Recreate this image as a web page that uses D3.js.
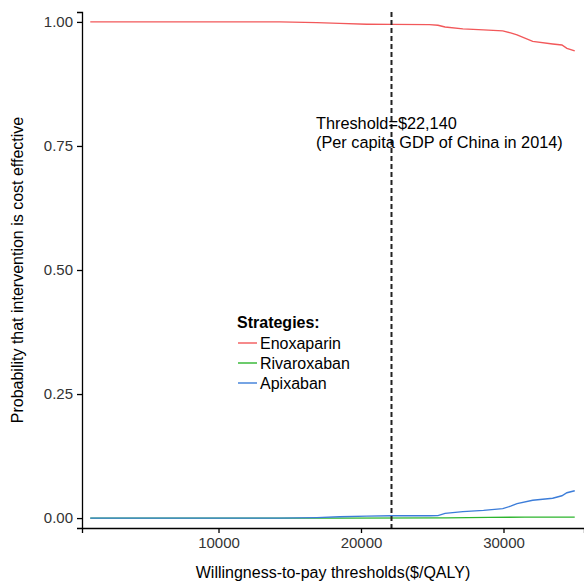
<!DOCTYPE html>
<html>
<head>
<meta charset="utf-8">
<script src="https://cdn.jsdelivr.net/npm/d3@7"></script>
<style>
  body { margin: 0; background: #fff; }
  text { font-family: "Liberation Sans", Arial, sans-serif; }
</style>
</head>
<body>
<script>
width = 584;
height = 583;

// acceptability curves
wtp_enox = [1000, 14300, 16900, 18500, 20400, 22150, 24800, 25400, 25900, 27150, 28600, 29950, 30500, 30950, 32050, 33450, 34100, 34450, 35000];
p_enox   = [1.000, 1.000, 0.9986, 0.997, 0.9954, 0.995, 0.9945, 0.9933, 0.9899, 0.986, 0.984, 0.982, 0.978, 0.974, 0.9607, 0.9556, 0.9536, 0.9466, 0.9415];

wtp_apix = [1000, 14300, 16900, 18500, 20400, 22150, 24800, 25400, 25900, 27150, 28600, 29950, 30500, 30950, 32050, 33450, 34100, 34450, 35000];
p_apix   = [0.000, 0.000, 0.001, 0.0026, 0.004, 0.0046, 0.0048, 0.005, 0.0095, 0.013, 0.0155, 0.019, 0.024, 0.029, 0.036, 0.040, 0.045, 0.051, 0.055];

wtp_riva = [1000, 18500, 26000, 29000, 31500, 35000];
p_riva   = [0.000, 0.000, 0.0005, 0.0015, 0.002, 0.002];

strategies = ["Enoxaparin", "Rivaroxaban", "Apixaban"];
colors = ["#F2585A", "#2DB52D", "#3C7DD9"];
x_ticks = [10000, 20000, 30000];
y_ticks = [0, 0.25, 0.5, 0.75, 1];
threshold = 22140;

series = [
  {name: "Enoxaparin", x: wtp_enox, y: p_enox},
  {name: "Rivaroxaban", x: wtp_riva, y: p_riva},
  {name: "Apixaban", x: wtp_apix, y: p_apix}
];

svg_elem = d3.select("body")
  .append("svg")
  .attr("width", width)
  .attr("height", height);

panel = {left: 82, right: 584, top: 12, bottom: 528};

x = d3.scaleLinear().domain([420, 35650]).range([panel.left, panel.right]);
y = d3.scaleLinear().domain([-0.02, 1.02]).range([panel.bottom, panel.top]);
color = d3.scaleOrdinal().domain(strategies).range(colors);

line = d3.line()
  .x(function(d) { return x(d[0]); })
  .y(function(d) { return y(d[1]); });

// curves
svg_elem.selectAll("path.ceac")
  .data(series)
  .enter()
  .append("path")
  .attr("class", "ceac")
  .attr("fill", "none")
  .attr("stroke", function(d) { return color(d.name); })
  .attr("stroke-width", 1.4)
  .attr("d", function(d) { return line(d3.zip(d.x, d.y)); });

// threshold line
svg_elem.append("line")
  .attr("x1", x(threshold)).attr("x2", x(threshold))
  .attr("y1", panel.top).attr("y2", panel.bottom)
  .attr("stroke", "#222")
  .attr("stroke-width", 2)
  .attr("stroke-dasharray", "5,3");

// axes
x_axis = svg_elem.append("g")
  .attr("transform", "translate(0," + panel.bottom + ")")
  .call(d3.axisBottom(x).tickValues(x_ticks).tickFormat(d3.format("d")).tickSize(5).tickPadding(4));
y_axis = svg_elem.append("g")
  .attr("transform", "translate(" + panel.left + ",0)")
  .call(d3.axisLeft(y).tickValues(y_ticks).tickFormat(d3.format(".2f")).tickSize(5).tickPadding(4));

[x_axis, y_axis].forEach(function(a) {
  a.select(".domain").attr("stroke", "#000").attr("stroke-width", 1.3);
  a.selectAll(".tick line").attr("stroke", "#000").attr("stroke-width", 1.3);
  a.selectAll(".tick text")
    .attr("fill", "#333")
    .style("font-size", "15px")
    .style("font-family", "'Liberation Sans', Arial, sans-serif");
});

// axis titles
svg_elem.append("text")
  .attr("x", (panel.left + panel.right) / 2)
  .attr("y", 578)
  .attr("text-anchor", "middle")
  .style("font-size", "16px")
  .text("Willingness-to-pay thresholds($/QALY)");

svg_elem.append("text")
  .attr("transform", "translate(23," + (panel.top + panel.bottom) / 2 + ") rotate(-90)")
  .attr("text-anchor", "middle")
  .style("font-size", "16px")
  .text("Probability that intervention is cost effective");

// annotation
svg_elem.append("text")
  .attr("x", 316).attr("y", 129)
  .style("font-size", "16.3px")
  .text("Threshold=$22,140");
svg_elem.append("text")
  .attr("x", 316).attr("y", 148)
  .style("font-size", "16.3px")
  .text("(Per capita GDP of China in 2014)");

// legend
legend = svg_elem.append("g").attr("transform", "translate(237,0)");
legend.append("text")
  .attr("x", 0).attr("y", 328)
  .style("font-size", "16px")
  .style("font-weight", "bold")
  .text("Strategies:");
items = legend.selectAll("g.item")
  .data(strategies)
  .enter()
  .append("g")
  .attr("class", "item")
  .attr("transform", function(d, i) { return "translate(0," + (343 + i * 20) + ")"; });
items.append("line")
  .attr("x1", 1).attr("x2", 20)
  .attr("stroke", function(d) { return color(d); })
  .attr("stroke-width", 1.4);
items.append("text")
  .attr("x", 23).attr("y", 5.5)
  .style("font-size", "16px")
  .text(function(d) { return d; });
</script>
</body>
</html>
